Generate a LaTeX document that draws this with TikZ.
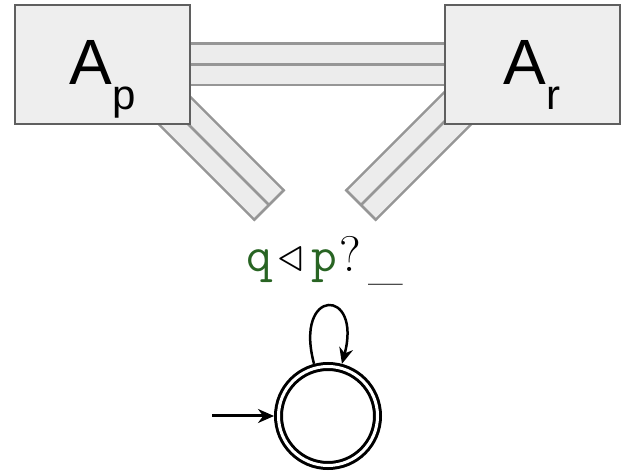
\RequirePackage{fix-cm}
\documentclass[tikz,border=0pt]{standalone}
\usepackage{fontspec}
\newfontfamily\boxfont{Liberation Sans}
\usetikzlibrary{arrows.meta,calc,positioning}
\definecolor{boxfill}{RGB}{238,238,238}
\definecolor{boxline}{RGB}{95,95,95}
\definecolor{chanfill}{RGB}{236,236,236}
\definecolor{chanline}{RGB}{150,150,150}
\definecolor{labgreen}{RGB}{40,100,35}
\newcommand{\boxsub}[1]{\raisebox{-25pt}{\fontsize{42}{42}\selectfont #1}}
\tikzset{
  box/.style={draw=boxline, line width=2pt, fill=boxfill,
              minimum width=175pt, minimum height=119pt, inner sep=0pt,
              text height=80pt, text depth=39pt,
              font=\boxfont\fontsize{64}{64}\selectfont},
  channel/.style={draw=chanline, line width=2.5pt,
                  double=chanfill, double distance=39pt},
  chanmid/.style={draw=chanline, line width=2.5pt},
  statecirc/.style={circle, draw=black, line width=3pt, double=white,
                    double distance=3pt, minimum size=99pt,
                    inner sep=0pt, outer sep=4.5pt},
  trans/.style={-{Stealth[length=16pt,width=14pt]}, line width=2.5pt},
  guard/.style={inner sep=0pt, anchor=base},
}
\begin{document}
\begin{tikzpicture}[x=1pt,y=1pt]
  \path[use as bounding box] (0,0) rectangle (625,472);

  % diagonal channels, under the boxes
  \coordinate (endL) at (269,267);
  \coordinate (endR) at (361,267);
  \draw[channel] (endL) -- ++(135:175);
  \draw[chanmid] (endL) -- ++(135:175);
  \draw[chanmid] ($(endL)+(45:22)$) -- ($(endL)+(225:22)$);
  \draw[channel] (endR) -- ++(45:175);
  \draw[chanmid] (endR) -- ++(45:175);
  \draw[chanmid] ($(endR)+(135:22)$) -- ($(endR)+(-45:22)$);

  \node[box] (Ap) at (102.5,407.5) {A\boxsub{p}};
  \node[box] (Ar) at (532,407.5) {A\boxsub{r}};
  \draw[channel] (Ap) -- (Ar);
  \draw[chanmid] (Ap) -- (Ar);

  % automaton
  \node[statecirc] (q) at (328,56) {};
  \coordinate (qin) at (212,56);
  \draw[trans, line width=3pt] (qin) -- (q);
  \draw[trans] (q.105) to[out=105, in=75, looseness=7.3]
    node[guard, xshift=-3pt, yshift=35pt] (lab)
    {\fontsize{50}{50}\selectfont\textcolor{labgreen}{\texttt{q}}\kern5pt$\triangleleft$\kern8.5pt\textcolor{labgreen}{\texttt{p}}\kern3pt?\kern7pt\raisebox{-7pt}{\_}}
    (q.75);
\end{tikzpicture}
\end{document}
